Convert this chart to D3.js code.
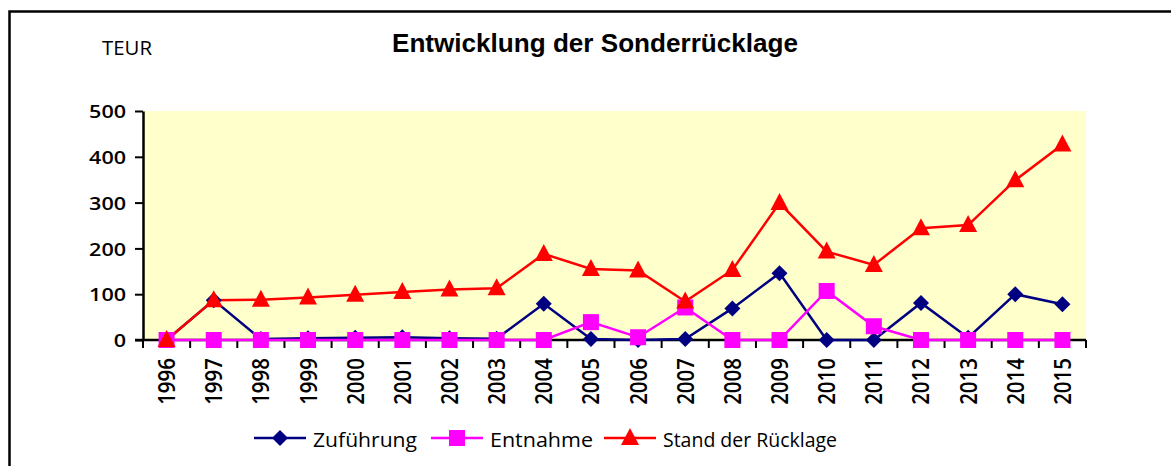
<!DOCTYPE html>
<html>
<head>
<meta charset="utf-8">
<script src="https://cdn.jsdelivr.net/npm/d3@7"></script>
<style>
  body { margin: 0; background: #fff; }
  svg { display: block; }
</style>
</head>
<body>
<div id="chart"></div>
<script>
// Entwicklung der Sonderrücklage — Excel-style line chart
const years = ['1996','1997','1998','1999','2000','2001','2002','2003','2004','2005',
               '2006','2007','2008','2009','2010','2011','2012','2013','2014','2015'];
const zufuehrung = [0, 87, 2, 4, 5, 6, 4, 3, 79, 2, 0, 2, 69, 146, 0, 0, 81, 5, 100, 78];
const entnahme   = [0, 0, 0, 0, 0, 0, 0, 0, 0, 39, 6, 71, 0, 0, 107, 30, 0, 0, 0, 0];
const stand      = [0, 87, 88, 93, 99, 105, 110, 113, 188, 155, 152, 84, 153, 299, 193, 164, 244, 251, 349, 427];
const yTicks = [0, 100, 200, 300, 400, 500];

const series = [
  {name: 'Zuführung', values: zufuehrung, color: '#000080', shape: 'diamond', textW: 104},
  {name: 'Entnahme', values: entnahme, color: '#ff00ff', shape: 'square', textW: 103},
  {name: 'Stand der Rücklage', values: stand, color: '#ff0000', shape: 'triangle', textW: 174}
];

(function(){
  const width = 1171, height = 466;
  const margin = {top: 111, right: 85, bottom: 126, left: 143};
  const innerW = width - margin.left - margin.right;
  const innerH = height - margin.top - margin.bottom;
  const font = '"Open Sans", "Noto Sans", sans-serif';

  const svg = d3.select('#chart').append('svg')
    .attr('width', width)
    .attr('height', height);

  // outer frame (runs off right/bottom edge)
  svg.append('rect')
    .attr('x', 9.5).attr('y', 11.5)
    .attr('width', width).attr('height', height)
    .attr('fill', 'none')
    .attr('stroke', '#000')
    .attr('stroke-width', 2.5);

  svg.append('text')
    .attr('x', 392).attr('y', 52)
    .attr('font-family', 'Liberation Sans, Arial, sans-serif')
    .attr('font-weight', 'bold')
    .attr('font-size', '25.5px')
    .attr('textLength', 406)
    .attr('lengthAdjust', 'spacingAndGlyphs')
    .text('Entwicklung der Sonderrücklage');

  svg.append('text')
    .attr('x', 102).attr('y', 55)
    .attr('font-family', font)
    .attr('font-size', '20.5px')
    .attr('textLength', 50)
    .attr('lengthAdjust', 'spacingAndGlyphs')
    .attr('fill', '#000')
    .text('TEUR');

  const g = svg.append('g')
    .attr('transform', `translate(${margin.left},${margin.top})`);

  const x = d3.scaleBand().domain(years).range([0, innerW]);
  const y = d3.scaleLinear().domain([0, 500]).range([innerH, 0]);

  g.append('rect')
    .attr('width', innerW).attr('height', innerH)
    .attr('fill', '#ffffcc');

  // y axis
  const yAxis = g.append('g')
    .call(d3.axisLeft(y).tickValues(yTicks).tickSize(8).tickSizeOuter(0).tickPadding(9));
  yAxis.select('.domain').attr('stroke-width', 2.5);
  yAxis.selectAll('line').attr('stroke-width', 2);
  yAxis.selectAll('text')
    .attr('font-family', font)
    .attr('font-size', '18.5px')
    .attr('font-weight', 600)
    .attr('fill', '#000')
    .attr('dy', '0.36em')
    .attr('textLength', d => String(d).length * 12.3)
    .attr('lengthAdjust', 'spacingAndGlyphs');

  // x axis: ticks sit between categories
  const xAxis = g.append('g')
    .attr('transform', `translate(0,${innerH})`);
  xAxis.append('line')
    .attr('x1', -8).attr('x2', innerW)
    .attr('stroke', '#000').attr('stroke-width', 2.5);
  xAxis.selectAll('line.tick')
    .data(years.concat(['end']))
    .enter().append('line')
    .attr('class', 'tick')
    .attr('x1', (d, i) => i * x.bandwidth())
    .attr('x2', (d, i) => i * x.bandwidth())
    .attr('y1', 0).attr('y2', 8)
    .attr('stroke', '#000').attr('stroke-width', 2);
  xAxis.selectAll('text')
    .data(years)
    .enter().append('text')
    .attr('transform', d => `translate(${x(d) + x.bandwidth()/2 + 8.5},18) rotate(-90) scale(1,1.16)`)
    .attr('text-anchor', 'end')
    .attr('font-family', font)
    .attr('font-size', '20.5px')
    .attr('font-weight', 600)
    .attr('fill', '#000')
    .text(d => d);

  const cx = (d, i) => x(years[i]) + x.bandwidth()/2;
  const line = d3.line()
    .x((d, i) => cx(d, i))
    .y(d => y(d));

  function marker(sel, s, px, py) {
    if (s.shape === 'diamond') {
      sel.append('path')
        .attr('d', `M${px},${py - 8}L${px + 8},${py}L${px},${py + 8}L${px - 8},${py}Z`)
        .attr('fill', s.color);
    } else if (s.shape === 'square') {
      sel.append('rect')
        .attr('x', px - 8).attr('y', py - 8)
        .attr('width', 16).attr('height', 16)
        .attr('fill', s.color);
    } else {
      sel.append('path')
        .attr('d', `M${px},${py - 10}L${px + 9},${py + 7}L${px - 9},${py + 7}Z`)
        .attr('fill', s.color);
    }
  }

  series.forEach(s => {
    g.append('path')
      .datum(s.values)
      .attr('d', line)
      .attr('fill', 'none')
      .attr('stroke', s.color)
      .attr('stroke-width', 2.5);
  });
  series.forEach(s => {
    const mg = g.append('g');
    s.values.forEach((v, i) => marker(mg, s, cx(v, i), y(v)));
  });

  // legend
  const legendX = [254, 431, 604];
  const legend = svg.append('g');
  series.forEach((s, i) => {
    const lx = legendX[i], ly = 438;
    legend.append('line')
      .attr('x1', lx).attr('x2', lx + 52)
      .attr('y1', ly).attr('y2', ly)
      .attr('stroke', s.color).attr('stroke-width', 2.5);
    marker(legend, s, lx + 26, ly);
    legend.append('text')
      .attr('x', lx + 59).attr('y', ly + 9)
      .attr('font-family', font)
      .attr('font-size', '19.5px')
      .attr('fill', '#000')
      .attr('textLength', s.textW)
      .attr('lengthAdjust', 'spacingAndGlyphs')
      .text(s.name);
  });
})();
</script>
</body>
</html>
